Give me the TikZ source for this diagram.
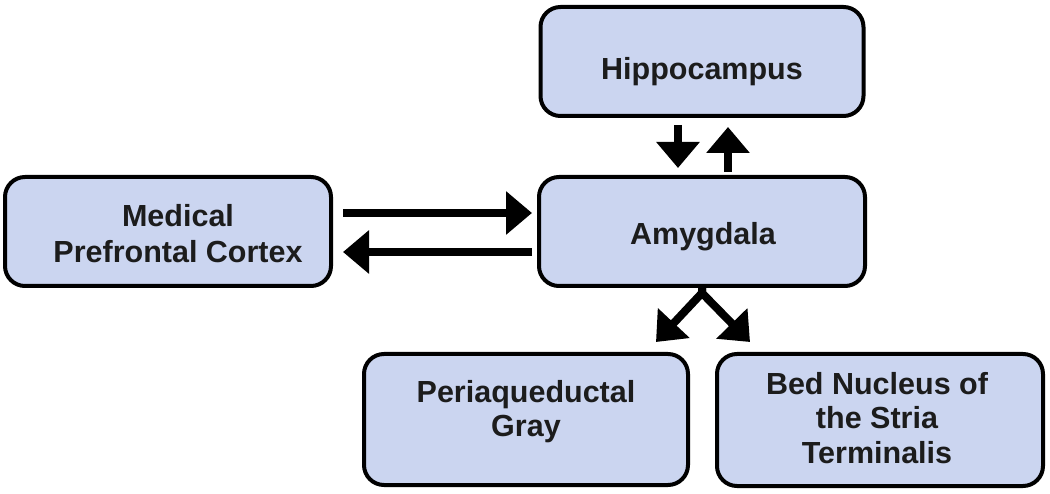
\documentclass[tikz,border=0pt]{standalone}
\usepackage{fontspec}
\setmainfont{Liberation Sans}
\usetikzlibrary{arrows.meta,calc}
\definecolor{boxfill}{RGB}{203,213,240}
\definecolor{txtcol}{RGB}{28,28,28}
\begin{document}
\begin{tikzpicture}[x=1pt,y=-1pt,
  box/.style={draw=black, line width=4pt, fill=boxfill, rounded corners=20pt, inner sep=0pt, outer sep=0pt},
  lbl/.style={text=txtcol, font=\bfseries\fontsize{30.5}{34.5}\selectfont, align=center, inner sep=0pt, outer sep=0pt},
  conn/.style={line width=8pt, -{Triangle[length=26pt,width=42pt]}}]
\useasboundingbox (0,0) rectangle (1050,494);

% boxes
\node[box, minimum width=323pt, minimum height=109pt] (hip)  at (702,61.5) {};
\node[box, minimum width=326pt, minimum height=109pt] (amyg) at (702,231.5) {};
\node[box, minimum width=326pt, minimum height=109pt] (mpfc) at (168,231.5) {};
\node[box, minimum width=324pt, minimum height=131pt] (pag)  at (526,419.5) {};
\node[box, minimum width=326pt, minimum height=132pt] (bnst) at (880,420) {};

% labels
\node[lbl, anchor=base]  (hipL)  at (702,80)  {Hippocampus};
\node[lbl, anchor=base]  (amygL) at (703,245) {Amygdala};
\node[lbl, anchor=north, font=\bfseries\fontsize{30.5}{36}\selectfont] (mpfcL) at (178,204) {Medical\\Prefrontal Cortex};
\node[lbl, anchor=north] (pagL)  at (526,380) {Periaqueductal\\Gray};
\node[lbl, anchor=north] (bnstL) at (877,372) {Bed Nucleus of\\the Stria\\Terminalis};

% connectors
\draw[conn, shorten <=12pt, shorten >=7pt] ([yshift=18.5pt]mpfc.east) -- ([yshift=18.5pt]amyg.west);
\draw[conn, shorten <=7pt, shorten >=12pt] ([yshift=-20.5pt]amyg.west) -- ([yshift=-20.5pt]mpfc.east);
\draw[conn, shorten <=9pt, shorten >=9pt] ([xshift=-24pt]hip.south) -- ([xshift=-24pt]amyg.north);
\draw[conn, shorten <=5pt, shorten >=11pt] ([xshift=26pt]amyg.north) -- ([xshift=26pt]hip.south);

\coordinate (ap) at ($(amyg.south)+(0,7)$);
\coordinate (pagtip) at (656,342);
\coordinate (bnsttip) at (750,342);
\draw[conn] (amyg.south) -- (ap) -- (pagtip);
\draw[conn] (amyg.south) -- (ap) -- (bnsttip);
\end{tikzpicture}
\end{document}
